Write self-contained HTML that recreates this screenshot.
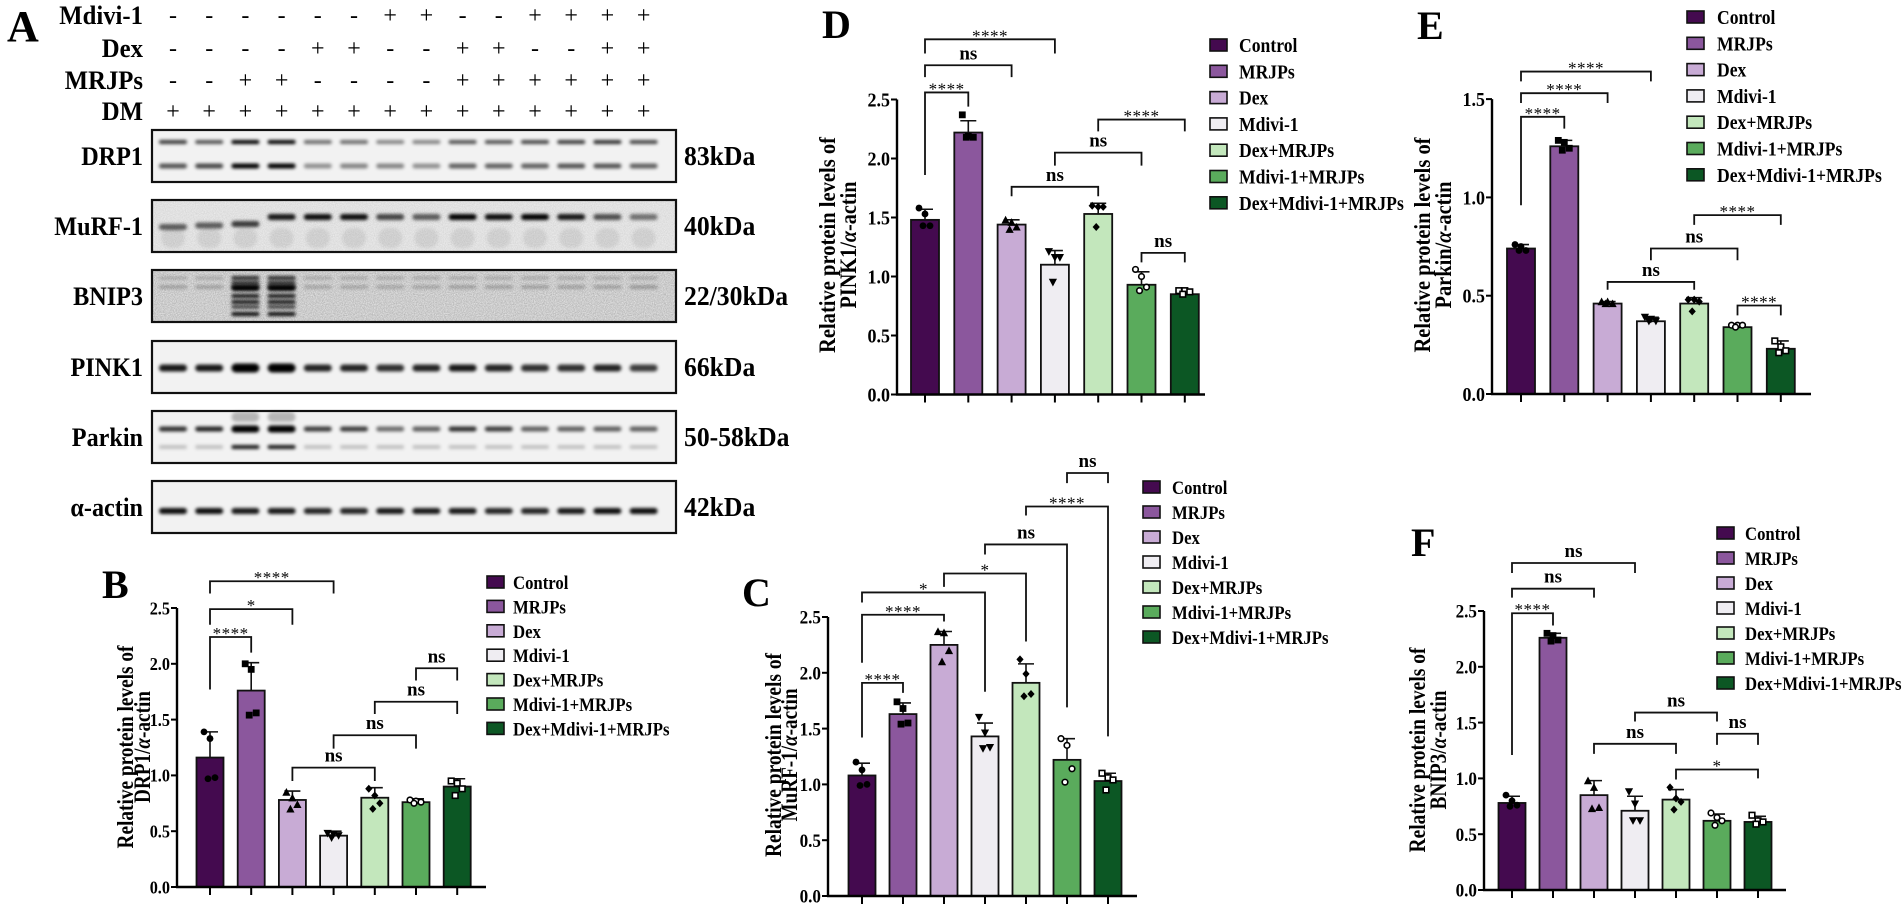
<!DOCTYPE html>
<html><head><meta charset="utf-8"><title>Western blot and quantification</title>
<style>
html,body{margin:0;padding:0;background:#fff;}
svg{display:block;}
text{font-family:"Liberation Serif","DejaVu Serif",serif;}
</style></head>
<body>
<svg id="fig" xmlns="http://www.w3.org/2000/svg" width="1902" height="910" viewBox="0 0 1902 910">
<defs>
<filter id="blur" x="-30%" y="-100%" width="160%" height="300%"><feGaussianBlur stdDeviation="1.6"/></filter>
<filter id="noise" x="0" y="0" width="100%" height="100%"><feTurbulence type="fractalNoise" baseFrequency="0.9" numOctaves="2" seed="3"/><feColorMatrix type="matrix" values="0 0 0 0 0  0 0 0 0 0  0 0 0 0 0  0 0 0 0.35 0"/></filter>
</defs>
<rect x="0" y="0" width="1902" height="910" fill="#fff"/>
<g id="panelA"></g>
<g id="charts"></g>
</svg>
<script>
// ---------- shared categories ----------
const groups = ['Control','MRJPs','Dex','Mdivi-1','Dex+MRJPs','Mdivi-1+MRJPs','Dex+Mdivi-1+MRJPs'];

// ---------- Panel B: DRP1 ----------
const bTicks = [0.0,0.5,1.0,1.5,2.0,2.5];
const bMeans = [1.16,1.76,0.78,0.46,0.80,0.76,0.90];
const bUpper = [1.39,2.01,0.86,0.50,0.89,0.79,0.97];
const bPoints = [[1.39,1.33,0.98,0.97],[2.00,1.95,1.56,1.54],[0.85,0.80,0.74,0.70],[0.48,0.47,0.46,0.44],[0.88,0.82,0.75,0.70],[0.78,0.77,0.76,0.75],[0.95,0.93,0.88,0.82]];
const bBrackets = [[0,3,2.74,2.63,2.63,'****'],[0,2,2.49,2.35,2.35,'*'],[0,1,2.24,1.77,2.10,'****'],[2,4,1.07,0.95,0.95,'ns'],[3,5,1.36,1.24,1.24,'ns'],[4,6,1.66,1.55,1.55,'ns'],[5,6,1.96,1.85,1.85,'ns']];

// ---------- Panel C: MuRF-1 ----------
const cTicks = [0.0,0.5,1.0,1.5,2.0,2.5];
const cMeans = [1.08,1.63,2.25,1.43,1.91,1.22,1.03];
const cUpper = [1.19,1.73,2.37,1.55,2.08,1.41,1.10];
const cPoints = [[1.20,1.13,1.00,0.99],[1.74,1.68,1.55,1.54],[2.37,2.36,2.20,2.10],[1.60,1.46,1.33,1.32],[2.12,1.99,1.81,1.79],[1.41,1.35,1.14,1.02],[1.10,1.06,1.04,0.95]];
const cBrackets = [[0,1,1.91,1.42,1.82,'****'],[0,2,2.52,2.09,2.46,'****'],[0,3,2.72,2.63,1.83,'*'],[2,4,2.89,2.77,2.28,'*'],[3,5,3.15,3.06,1.69,'ns'],[4,6,3.49,3.41,1.43,'****'],[5,6,3.79,3.70,3.70,'ns']];

// ---------- Panel D: PINK1 ----------
const dTicks = [0.0,0.5,1.0,1.5,2.0,2.5];
const dMeans = [1.48,2.22,1.44,1.10,1.53,0.93,0.85];
const dUpper = [1.57,2.32,1.48,1.22,1.62,1.04,0.87];
const dPoints = [[1.58,1.53,1.43,1.43],[2.37,2.19,2.18,2.18],[1.48,1.46,1.42,1.40],[1.21,1.16,1.16,0.95],[1.60,1.59,1.59,1.42],[1.06,1.00,0.91,0.88],[0.88,0.88,0.87,0.85]];
const dBrackets = [[0,1,2.56,1.86,2.44,'****'],[0,2,2.79,2.69,2.69,'ns'],[0,3,3.01,2.89,2.89,'****'],[2,4,1.76,1.68,1.68,'ns'],[3,5,2.05,1.94,1.94,'ns'],[4,6,2.33,2.23,2.23,'****'],[5,6,1.20,1.12,1.12,'ns']];

// ---------- Panel E: Parkin ----------
const eTicks = [0.0,0.5,1.0,1.5];
const eMeans = [0.74,1.26,0.46,0.37,0.46,0.34,0.23];
const eUpper = [0.76,1.29,0.47,0.39,0.49,0.35,0.27];
const ePoints = [[0.76,0.75,0.73,0.73],[1.29,1.28,1.25,1.24],[0.47,0.47,0.46,0.46],[0.39,0.38,0.37,0.37],[0.48,0.48,0.47,0.42],[0.35,0.35,0.35,0.34],[0.27,0.24,0.22,0.21]];
const eBrackets = [[0,1,1.41,0.96,1.35,'****'],[0,2,1.53,1.48,1.48,'****'],[0,3,1.64,1.59,1.59,'****'],[2,4,0.57,0.53,0.53,'ns'],[3,5,0.74,0.68,0.68,'ns'],[4,6,0.91,0.86,0.86,'****'],[5,6,0.45,0.40,0.40,'****']];

// ---------- Panel F: BNIP3 ----------
const fTicks = [0.0,0.5,1.0,1.5,2.0,2.5];
const fMeans = [0.78,2.26,0.85,0.71,0.81,0.62,0.61];
const fUpper = [0.84,2.30,0.98,0.84,0.90,0.68,0.66];
const fPoints = [[0.85,0.80,0.76,0.75],[2.30,2.28,2.24,2.23],[0.98,0.92,0.74,0.73],[0.88,0.77,0.62,0.62],[0.92,0.82,0.79,0.72],[0.69,0.65,0.62,0.58],[0.67,0.62,0.61,0.59]];
const fBrackets = [[0,1,2.48,1.21,2.37,'****'],[0,2,2.70,2.62,2.62,'ns'],[0,3,2.93,2.84,2.84,'ns'],[2,4,1.31,1.22,1.22,'ns'],[3,5,1.59,1.51,1.51,'ns'],[5,6,1.40,1.30,1.30,'ns'],[4,6,1.08,0.99,1.00,'*']];

// ---------- Panel A: treatment table & band intensities ----------
const treatRows = ['Mdivi-1','Dex','MRJPs','DM'];
const treatSigns = [
 '------++--++++'.split(''),
 '----++--++--++'.split(''),
 '--++----++++++'.split(''),
 '++++++++++++++'.split('')
];
const drp1Upper = [0.75,0.65,1,1,0.55,0.55,0.45,0.45,0.65,0.65,0.7,0.75,0.8,0.7];
const drp1Lower = [0.65,0.7,1,1,0.4,0.45,0.45,0.4,0.6,0.6,0.6,0.65,0.65,0.6];
const murfBand = [0.6,0.6,0.75,0.9,0.95,0.95,0.7,0.6,1,0.95,1,0.9,0.65,0.5];
const bnip3Band = [0.35,0.35,1,1,0.3,0.3,0.3,0.3,0.35,0.35,0.35,0.35,0.35,0.4];
const pinkBand = [0.9,0.9,1,1,0.85,0.85,0.8,0.85,0.9,0.85,0.8,0.8,0.85,0.75];
const parkinBand = [0.8,0.85,1,1,0.75,0.75,0.55,0.6,0.8,0.75,0.6,0.6,0.6,0.6];
const actinBand = [0.95,0.95,0.9,0.9,0.85,0.85,0.9,0.9,0.9,0.85,0.85,0.9,0.95,0.95];

const colors = ['#440a4f','#8b579d','#c8abd5','#efedf2','#c3e7bc','#5aab5c','#0c5724'];
const NS = 'http://www.w3.org/2000/svg';
function mk(parent, tag, attrs, txt){
  const el = document.createElementNS(NS, tag);
  for (const k in attrs) el.setAttribute(k, attrs[k]);
  if (txt !== undefined) el.textContent = txt;
  parent.appendChild(el);
  return el;
}
function condense(el, f){
  const len = el.getComputedTextLength();
  if (len > 0){ el.setAttribute('textLength', (len*f).toFixed(1)); el.setAttribute('lengthAdjust','spacingAndGlyphs'); }
}

// ================= Panel A =================
const A = document.getElementById('panelA');
let t = mk(A,'text',{x:7,y:41,'font-size':44,'font-weight':'bold'},'A');
 
const laneX = i => 173 + i*36.2;
const rowY = [24,57,89,120];
treatRows.forEach((r,ri)=>{
  const lab = mk(A,'text',{x:143,y:rowY[ri],'font-size':26,'font-weight':'bold','text-anchor':'end'},r);
  
  
  condense(lab,0.95);
  treatSigns[ri].forEach((s,li)=>{
    const sg = mk(A,'text',{x:laneX(li),y:rowY[ri]-1,'font-size':24,'text-anchor':'middle'},s==='+'?'+':'-');
    
    
  });
});
const blots = [
 {name:'DRP1',kda:'83kDa',y:130},
 {name:'MuRF-1',kda:'40kDa',y:200},
 {name:'BNIP3',kda:'22/30kDa',y:270},
 {name:'PINK1',kda:'66kDa',y:341},
 {name:'Parkin',kda:'50-58kDa',y:411},
 {name:'α-actin',kda:'42kDa',y:481}
];
function band(g, i, y, h, op, w){
  const r = mk(g,'rect',{x:laneX(i)-(w||14),y:y-h/2,width:2*(w||14),height:h,rx:h/2,fill:'#000','fill-opacity':op,filter:'url(#blur)'});
  
  
}
blots.forEach((b,bi)=>{
  const g = mk(A,'g',{});
  
  
  const bg = mk(g,'rect',{x:152,y:b.y,width:524,height:52,fill:'#f2f2f2'});
   
  if (b.name==='BNIP3' || b.name==='MuRF-1'){
    const nz = mk(g,'rect',{x:152,y:b.y,width:524,height:52,filter:'url(#noise)',opacity:b.name==='BNIP3'?0.9:0.4});
     
  }
  const y = b.y;
  for (let i=0;i<14;i++){
    if (b.name==='DRP1'){ band(g,i,y+12,4,drp1Upper[i]); band(g,i,y+36,5,drp1Lower[i]); }
    if (b.name==='MuRF-1'){ const yy = i<3 ? y+27-(i*1.5) : y+17; band(g,i,yy,6,murfBand[i]); band(g,i,y+38,20,0.08,12); }
    if (b.name==='BNIP3'){
      band(g,i,y+17,3,bnip3Band[i]*0.8);
      if (i===2||i===3){ band(g,i,y+8,4,0.8); band(g,i,y+13,4,0.8); band(g,i,y+18,6,1); band(g,i,y+26,4,0.9); band(g,i,y+32,4,0.9); band(g,i,y+37,3,0.8); band(g,i,y+44,4,0.95); }
      else band(g,i,y+8,3,0.2);
    }
    if (b.name==='PINK1'){ band(g,i,y+27,i===2||i===3?9:7,pinkBand[i]); }
    if (b.name==='Parkin'){ band(g,i,y+18,i===2||i===3?7:5,parkinBand[i]); band(g,i,y+36,4,i===2||i===3?0.9:0.2); if(i===2||i===3) band(g,i,y+6,10,0.25); }
    if (b.name==='α-actin'){ band(g,i,y+30,6,actinBand[i]); }
  }
  const fr = mk(g,'rect',{x:152,y:b.y,width:524,height:52,fill:'none',stroke:'#111','stroke-width':2.2});
   
  const lab = mk(A,'text',{x:143,y:b.y+35,'font-size':26,'font-weight':'bold','text-anchor':'end','font-style':'normal'},b.name);
  
  
  condense(lab,0.93);
  const kd = mk(A,'text',{x:684,y:b.y+35,'font-size':27,'font-weight':'bold'},b.kda);
  
  
  condense(kd,0.95);
});

// ================= Charts =================
const C = document.getElementById('charts');
function marker(g, type, cx, cy){
  let el;
  const s = 3.6;
  if (type===0) el = mk(g,'circle',{cx:cx,cy:cy,r:3.4,fill:'#000'});
  else if (type===1) el = mk(g,'rect',{x:cx-3.4,y:cy-3.4,width:6.8,height:6.8,fill:'#000'});
  else if (type===2) el = mk(g,'path',{d:`M${cx},${cy-s-0.5}L${cx+s+0.5},${cy+s}L${cx-s-0.5},${cy+s}Z`,fill:'#000'});
  else if (type===3) el = mk(g,'path',{d:`M${cx},${cy+s+0.5}L${cx+s+0.5},${cy-s}L${cx-s-0.5},${cy-s}Z`,fill:'#000'});
  else if (type===4) el = mk(g,'path',{d:`M${cx},${cy-4}L${cx+3.6},${cy}L${cx},${cy+4}L${cx-3.6},${cy}Z`,fill:'#000'});
  else if (type===5) el = mk(g,'circle',{cx:cx,cy:cy,r:2.8,fill:'#fff',stroke:'#000','stroke-width':1.6});
  else el = mk(g,'rect',{x:cx-2.8,y:cy-2.8,width:5.6,height:5.6,fill:'#fff',stroke:'#000','stroke-width':1.6});
  
  
}
const jitter = [-6,0,5,-2];

function drawChart(cfg, ticks, means, upper, points, brackets){
  const g = mk(C,'g',{});
  
  
  const yS = v => cfg.y0 - v*cfg.ppu;
  const xS = i => cfg.x0 + i*cfg.step;
  const L = mk(g,'text',{x:cfg.letter[0],y:cfg.letter[1],'font-size':40,'font-weight':'bold'},cfg.id.toUpperCase());
  
  
  means.forEach((m,i)=>{
    const top = yS(m);
    const r = mk(g,'rect',{x:xS(i)-cfg.bw/2,y:top,width:cfg.bw,height:cfg.y0-top,fill:colors[i],stroke:'#111','stroke-width':1.8});
    
    
    const e = mk(g,'path',{d:`M${xS(i)},${top}V${yS(upper[i])}M${xS(i)-8},${yS(upper[i])}H${xS(i)+8}`,stroke:'#111','stroke-width':1.6,fill:'none'});
    
    
    points[i].forEach((p,k)=>marker(g,i,xS(i)+jitter[k],yS(p)));
  });
  const yTop = yS(ticks[ticks.length-1]);
  const ya = mk(g,'path',{d:`M${cfg.ax},${yTop}V${cfg.y0}`,stroke:'#000','stroke-width':2.4,fill:'none'});
   
  const xa = mk(g,'path',{d:`M${cfg.ax-1},${cfg.y0}H${cfg.xEnd}`,stroke:'#000','stroke-width':2.4,fill:'none'});
   
  ticks.forEach(tv=>{
    const tk = mk(g,'path',{d:`M${cfg.ax-6},${yS(tv)}H${cfg.ax}`,stroke:'#000','stroke-width':2});
     
    const tl = mk(g,'text',{x:cfg.ax-7,y:yS(tv)+cfg.tf*0.35,'font-size':cfg.tf,'font-weight':'bold','text-anchor':'end'},tv.toFixed(1));
     
    condense(tl,0.9);
  });
  means.forEach((m,i)=>{
    const tk = mk(g,'path',{d:`M${xS(i)},${cfg.y0}V${cfg.y0+8}`,stroke:'#000','stroke-width':2});
     
  });
  const t1 = mk(g,'text',{x:0,y:0,'font-size':23,'font-weight':'bold','text-anchor':'middle',transform:`translate(${cfg.tx[0]+8},${cfg.ty}) rotate(-90)`,textLength:cfg.tl[0],lengthAdjust:'spacingAndGlyphs'},'Relative protein levels of');
   
  const t2 = mk(g,'text',{x:0,y:0,'font-size':23,'font-weight':'bold','text-anchor':'middle',transform:`translate(${cfg.tx[1]+8},${cfg.ty}) rotate(-90)`,textLength:cfg.tl[1],lengthAdjust:'spacingAndGlyphs'});
   
  mk(t2,'tspan',{},cfg.prot+'/');
  mk(t2,'tspan',{'font-style':'italic'},'α');
  mk(t2,'tspan',{},'-actin');
  brackets.forEach(b=>{
    const [i,j,top,le,re,lab] = b;
    const p = mk(g,'path',{d:`M${xS(i)},${yS(le)}V${yS(top)}H${xS(j)}V${yS(re)}`,stroke:'#111','stroke-width':1.8,fill:'none'});
     
    const mx = (xS(i)+xS(j))/2;
    let tt;
    if (lab==='ns') tt = mk(g,'text',{x:mx,y:yS(top)-6,'font-size':19,'font-weight':'bold','text-anchor':'middle'},'ns');
    else tt = mk(g,'text',{x:mx,y:yS(top)+2,'font-size':17,'text-anchor':'middle','letter-spacing':'0.5'},lab);
     
  });
  groups.forEach((name,i)=>{
    const ly = cfg.lg[2] + i*cfg.lg[3];
    const lg = mk(g,'g',{});
    
    
    mk(lg,'rect',{x:cfg.lg[0],y:ly-6,width:17,height:12,fill:colors[i],stroke:'#111','stroke-width':1.6});
    const lt = mk(lg,'text',{x:cfg.lg[1],y:ly+7,'font-size':cfg.lf,'font-weight':'bold'},name);
    condense(lt,0.88);
  });
}

drawChart({id:'b',prot:'DRP1',ax:177,y0:887,ppu:111.6,x0:210,step:41.2,bw:27,xEnd:486,tf:18,
  tx:[125,142],ty:747,tl:[203,112],letter:[102,598],lg:[487,513,582,24.4],lf:19},
  bTicks,bMeans,bUpper,bPoints,bBrackets);
drawChart({id:'c',prot:'MuRF-1',ax:828,y0:896,ppu:111.6,x0:862,step:41,bw:27,xEnd:1137,tf:19,
  tx:[773,789],ty:755,tl:[204,133],letter:[742,606],lg:[1143,1172,487,25],lf:19},
  cTicks,cMeans,cUpper,cPoints,cBrackets);
drawChart({id:'d',prot:'PINK1',ax:897,y0:394.5,ppu:118,x0:925,step:43.3,bw:28,xEnd:1205,tf:20,
  tx:[827,848],ty:245,tl:[216,127],letter:[822,38],lg:[1210,1239,45,26.3],lf:20},
  dTicks,dMeans,dUpper,dPoints,dBrackets);
drawChart({id:'e',prot:'Parkin',ax:1492,y0:394,ppu:196.6,x0:1521,step:43.3,bw:28,xEnd:1811,tf:20,
  tx:[1422,1443],ty:245,tl:[215,127],letter:[1417,39],lg:[1687,1717,17,26.3],lf:20},
  eTicks,eMeans,eUpper,ePoints,eBrackets);
drawChart({id:'f',prot:'BNIP3',ax:1484,y0:890,ppu:111.6,x0:1512,step:41,bw:27,xEnd:1786,tf:19,
  tx:[1417,1438],ty:750,tl:[205,119],letter:[1411,556],lg:[1717,1745,533,25],lf:19},
  fTicks,fMeans,fUpper,fPoints,fBrackets);
</script>
</body></html>
